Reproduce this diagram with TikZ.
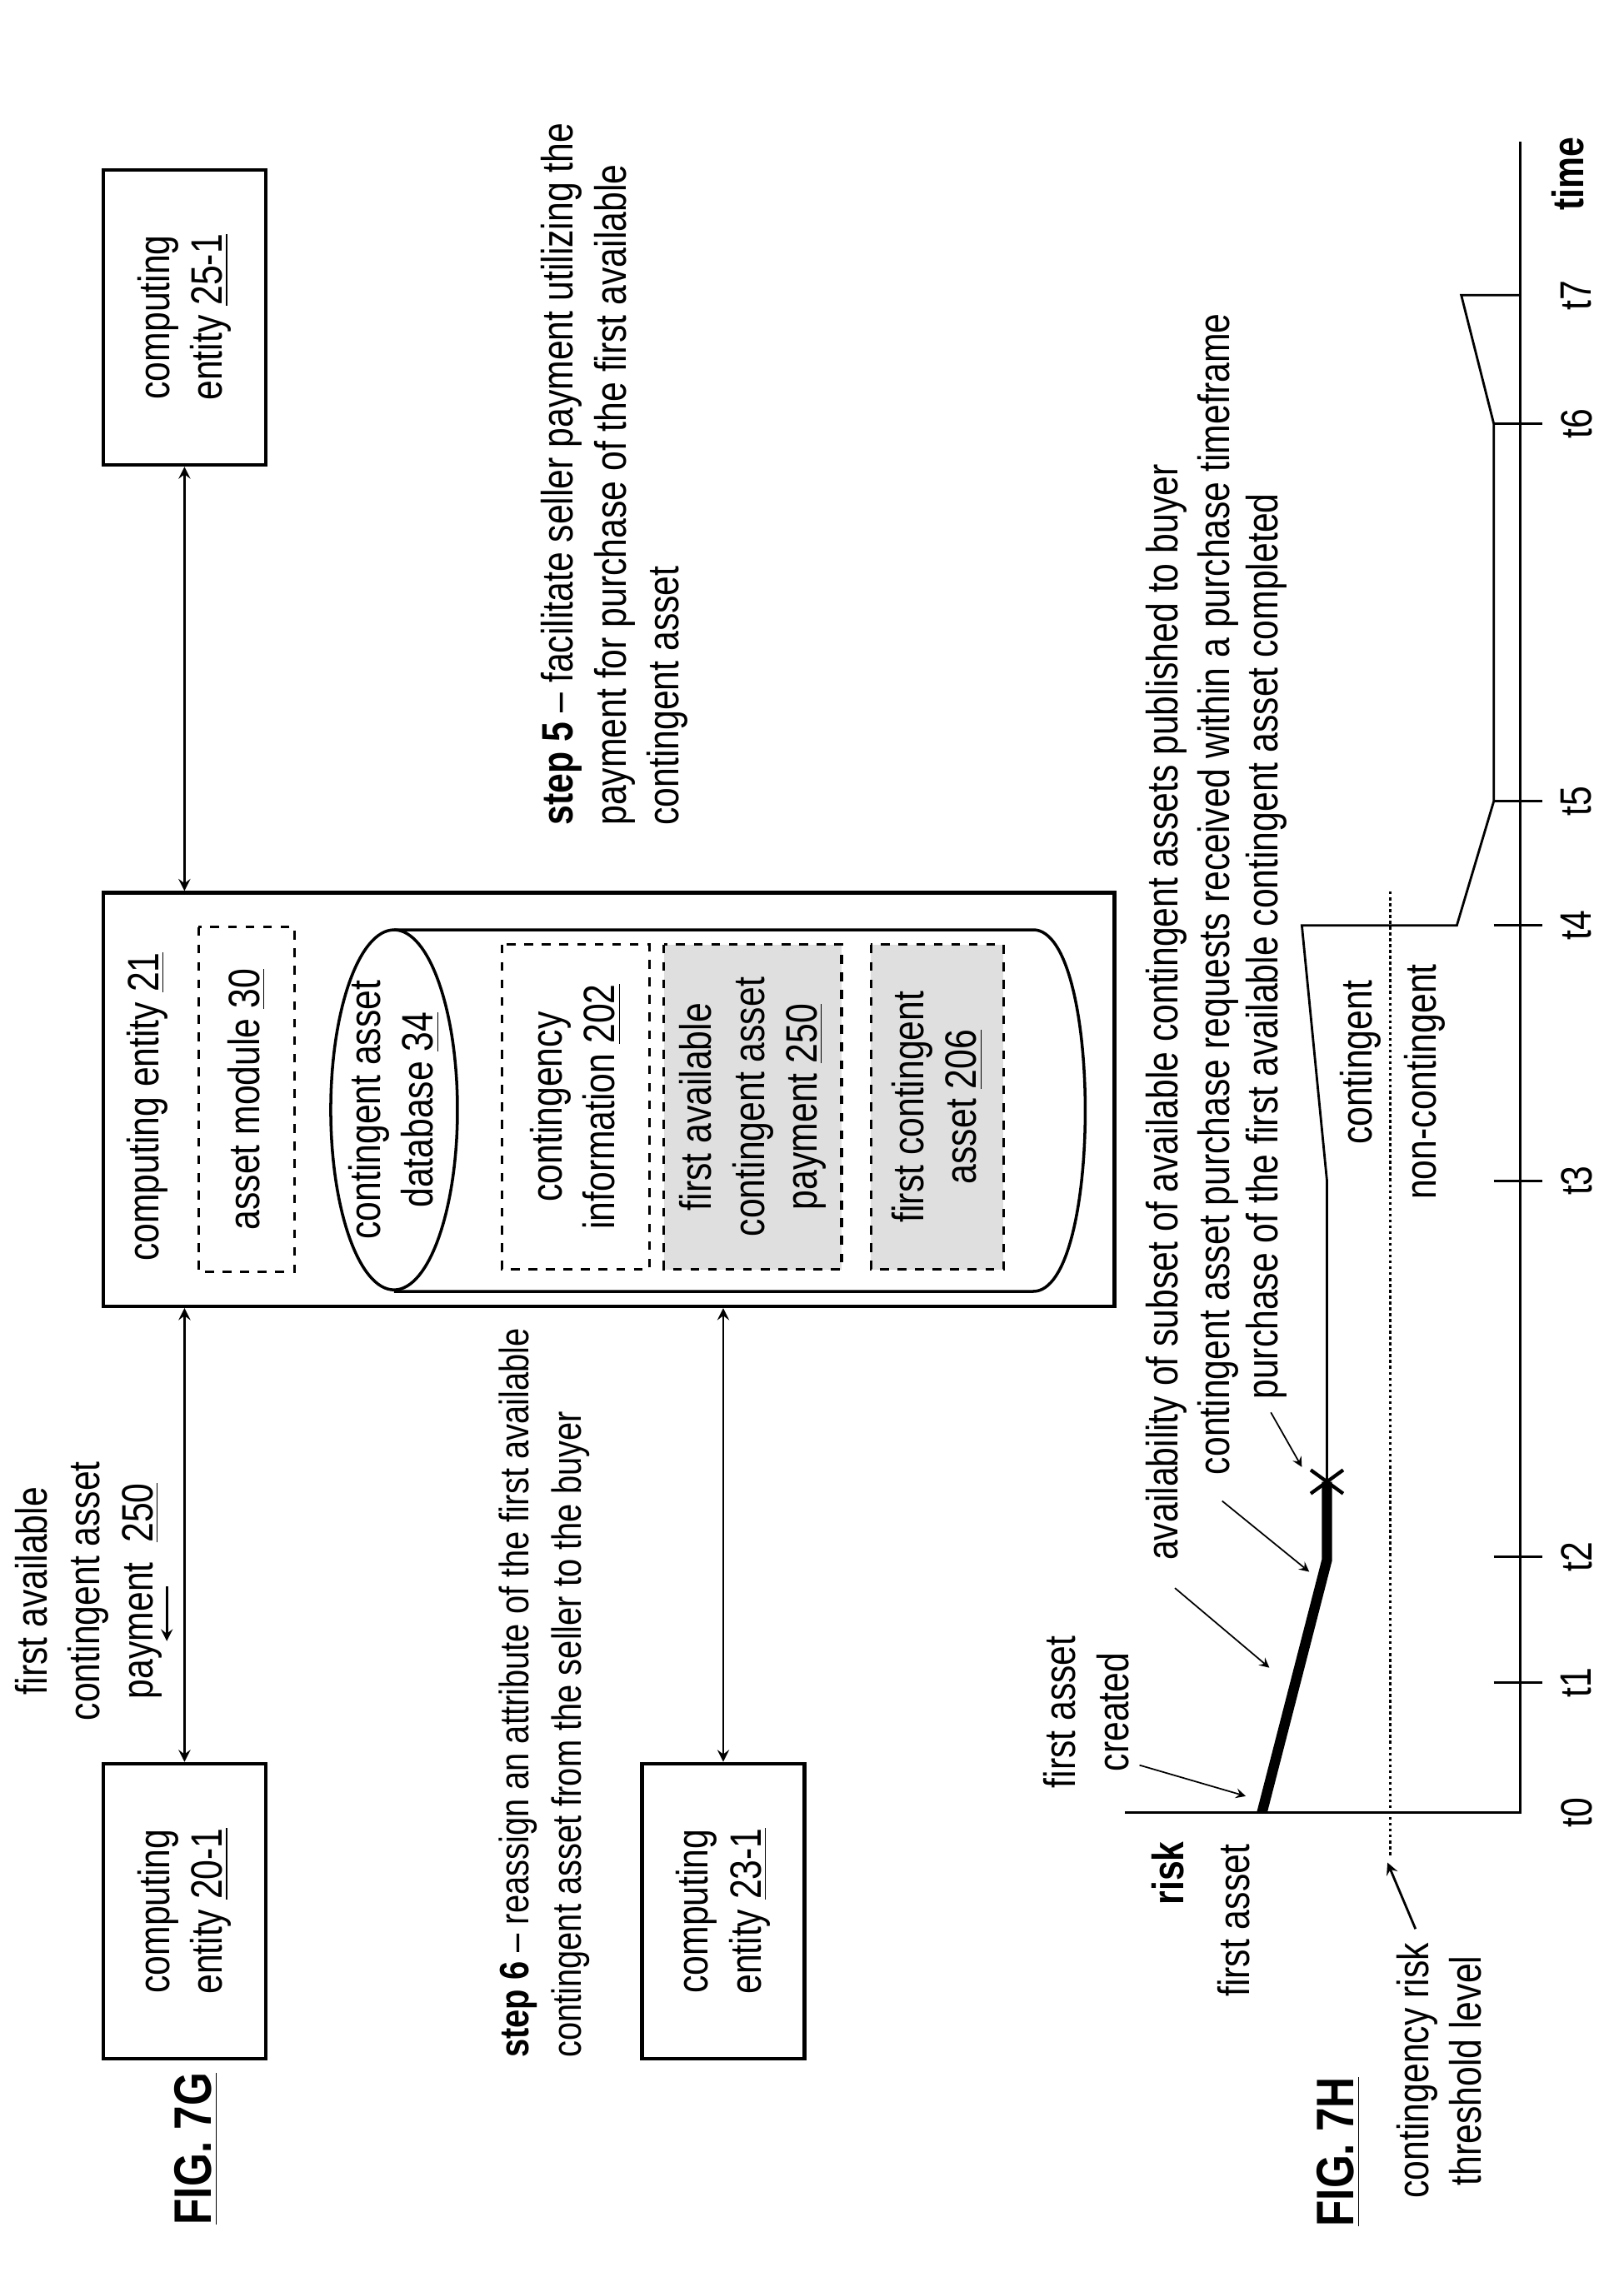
\documentclass[tikz,border=0pt]{standalone}
\usepackage{fontspec}
\setmainfont{Liberation Sans}[FakeStretch=0.81]
\usetikzlibrary{positioning}
\tikzset{tx/.style = {rotate=90, inner sep=0pt, align=center, font=\fontsize{15}{18}\selectfont},
         box/.style = {tx, draw, line width=1.3pt, inner sep=2pt},
         dbox/.style = {tx, draw, dashed, line width=0.9pt, inner sep=2pt},
         gbox/.style = {dbox, fill=gray!25},
         fig/.style = {rotate=90, inner sep=0pt, font=\fontsize{18}{22}\selectfont\bfseries}}

\begin{document}
\begin{tikzpicture}[x=0.1771mm, y=-0.1771mm, >=stealth, line width=0.8pt]
    \useasboundingbox (0,0) rectangle (1100,1553);
    % fig 7G
    \node[fig] (f7g) at (133,1456) {\underline{FIG. 7G}};
    \node[box, minimum width=35.4mm, minimum height=19.5mm] (c20) at (125,1295) {computing\\entity \underline{20-1}};
    \node[box, minimum width=35.4mm, minimum height=19.5mm] (c23) at (490,1295) {computing\\entity \underline{23-1}};
    \node[box, minimum width=35.4mm, minimum height=19.5mm] (c25) at (125,215) {computing\\entity \underline{25-1}};
    \node[box, minimum width=49.6mm, minimum height=121.3mm] (c21) at (412.5,745) {};
    \node[tx] (c21t) at (100,750) {computing entity \underline{21}};
    \node[dbox, minimum width=41.4mm, minimum height=11.5mm] (am) at (167,745) {asset module \underline{30}};
    % database cylinder
    \draw[line width=1pt] (267,630) -- (700,630) .. controls (747,630) and (747,875) .. (700,875) -- (267,875);
    \draw[line width=1pt, fill=white] (267,752) ellipse [x radius=7.6mm, y radius=21.6mm];
    \node[tx] (db) at (267,752) {contingent asset\\database \underline{34}};
    \node[dbox, fill=white, minimum width=39mm, minimum height=17.7mm] (ci) at (390,750) {contingency\\information \underline{202}};
    \node[gbox, minimum width=39mm, minimum height=21.3mm] (pay) at (510,750) {first available\\contingent asset\\payment \underline{250}};
    \node[gbox, minimum width=39mm, minimum height=15.9mm] (ca) at (635,750) {first contingent\\asset \underline{206}};
    \draw[<->] (c21.west -| c20.east) -- (c20.east);
    \draw[<->] (c21.west -| c23.east) -- (c23.east);
    \draw[<->] (c25.west) -- (c21.east -| c25.west);
    \node[tx] (pl) at (60,1078) {first available\\contingent asset\\payment \ \underline{250}};
    \coordinate (pa) at (113,1075); \coordinate (pb) at (113,1112);
    \draw[->] (pa) -- (pb);
    \node[tx, anchor=north west, align=left, font=\fontsize{14}{18}\selectfont] (s6) at (337,1395) {\textbf{step 6} -- reassign an attribute of the first available\\contingent asset from the seller to the buyer};
    \node[tx, anchor=north west, align=left] (s5) at (366,560) {\textbf{step 5} -- facilitate seller payment utilizing the\\payment for purchase of the first available\\contingent asset};
    % fig 7H
    \node[fig] (f7h) at (907,1458) {\underline{FIG. 7H}};
    \coordinate (o) at (1030,1228); \coordinate (te) at (1030,96); \coordinate (ra) at (762,1228);
    \draw (ra) -- (o) -- (te);
    \foreach \y/\t in {1140/t1,1055/t2,800/t3,627/t4,543/t5,287/t6} {
      \draw (1012,\y) -- (1045,\y);
      \node[tx] at (1068,\y) {\t};
    }
    \node[tx] (t0) at (1068,1228) {t0};
    \node[tx] (t7) at (1068,200) {t7};
    \node[tx, font=\fontsize{15}{18}\selectfont\bfseries] (tm) at (1062,118) {time};
    \node[tx, anchor=east, font=\fontsize{15}{18}\selectfont\bfseries] (rk) at (791,1247) {risk};
    \node[tx, anchor=east] (fa) at (836,1249) {first asset};
    % threshold
    \draw[densely dotted, line width=1pt] (942,604) -- (942,1258);
    \node[tx] (thr) at (975,1403) {contingency risk\\threshold level};
    \draw[->] (959,1307) -- (940,1262);
    \node[tx] (cg) at (922,720) {contingent};
    \node[tx] (ncg) at (965,733) {non-contingent};
    % risk curve
    \coordinate (p0) at (855,1228); \coordinate (p1) at (899,1057); \coordinate (px) at (899,1004);
    \draw[line width=3.5pt] (p0) -- (p1) -- (px);
    \draw (px) -- (899,800) -- (882,627) -- (987,627) -- (1012,543) -- (1012,287) -- (990,200) -- (1030,200);
    \draw[line width=1.2pt] (888,996) -- (910,1012) (888,1012) -- (910,996);
    % annotations
    \node[tx] (cr) at (736,1160) {first asset\\created};
    \draw[->, line width=0.5pt] (772,1196) -- (844,1217);
    \node[tx, anchor=west] (l1) at (790,1058) {availability of subset of available contingent assets published to buyer};
    \node[tx, anchor=west] (l2) at (825,1000) {contingent asset purchase requests received within a purchase timeframe};
    \node[tx, anchor=west] (l3) at (858,949) {purchase of the first available contingent asset completed};
    \draw[->, line width=0.5pt] (796,1076) -- (860,1130);
    \draw[->, line width=0.5pt] (828,1017) -- (887,1065);
    \draw[->, line width=0.5pt] (861,957) -- (882,994);
\end{tikzpicture}
\end{document}
